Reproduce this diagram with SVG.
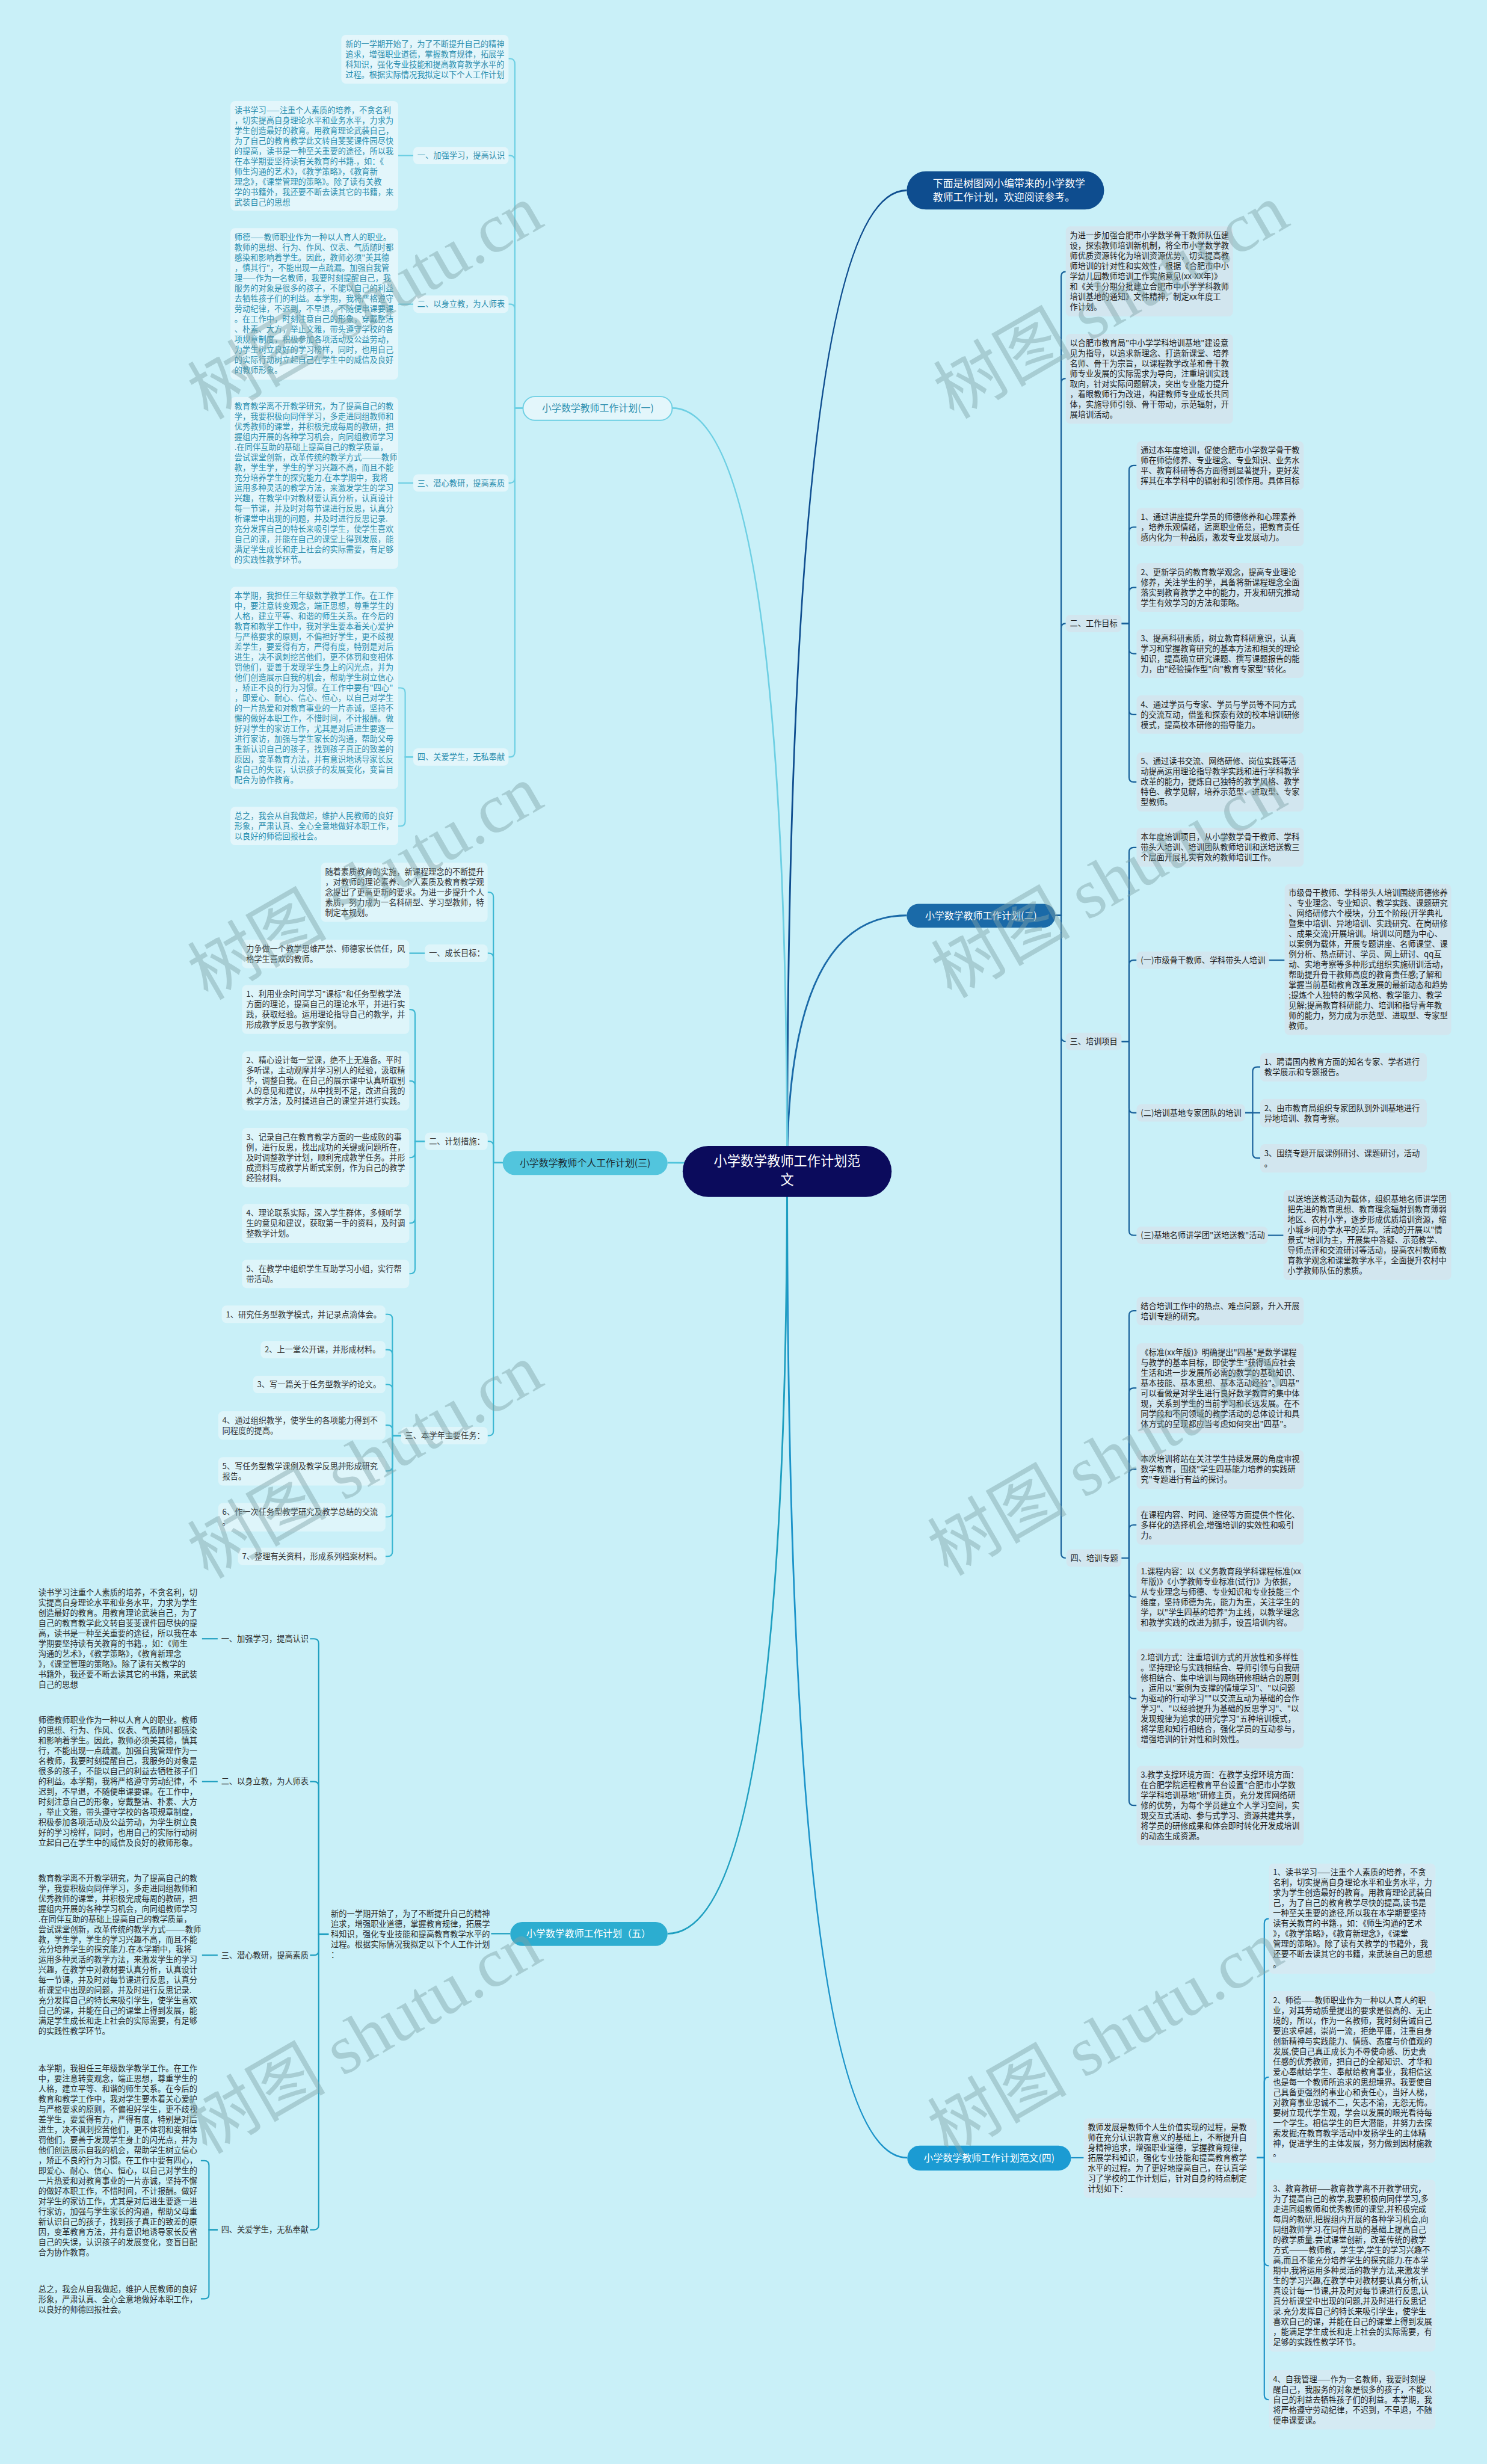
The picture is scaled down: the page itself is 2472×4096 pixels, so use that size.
<svg xmlns="http://www.w3.org/2000/svg" width="2472" height="4096" viewBox="0 0 2472 4096">
<style>
text{font-family:"Noto Sans CJK SC","Noto Sans",sans-serif;font-size:13.7px}
.k{fill:none;stroke-width:2.2}
.c{fill:none;stroke-width:3}
.k1{stroke:#6dcfe3}.k3{stroke:#3cb7d2}.k5{stroke:#1f9fc0}.k2{stroke:#17609a}.k4{stroke:#1a90c6}
.b1{fill:#e3f6fb}.b3{fill:#def5fa}.b2{fill:#d2e6ef}.b4{fill:#d4eaf3}
.x1{fill:#2b8eae}.x3{fill:#333333}.x5{fill:#2b2b2b}.x2{fill:#1c1c1c}.x4{fill:#1c1c1c}
.L1{font-size:16.5px;text-anchor:middle}
.wm{font-family:"Liberation Serif","Noto Sans CJK SC",serif;font-size:120px;fill:#7fa3a8;opacity:.45}
</style>
<rect width="2472" height="4096" fill="#c9f0f8"/>
<g transform="scale(0.965)">
<g id="connectors">
<path class="c" stroke="#0e4d8f" d="M1356 2017 Q1356 328 1562 328"/>
<path class="c" stroke="#1a6aa8" d="M1356 2017 Q1356 1577 1562 1577"/>
<path class="c" stroke="#1b93c9" d="M1356 2017 Q1356 3717 1563 3717"/>
<path class="c" stroke="#6dcfe3" d="M1356 2017 Q1356 703 1158 703"/>
<path class="c" stroke="#4ec3db" d="M1356 2017 Q1356 2003 1150 2003"/>
<path class="c" stroke="#1f9fc0" d="M1356 2017 Q1356 3331 1150 3331"/>
<g class="k k1">
<path d="M901 703 H887 V111 Q887 101 879 101 H876"/>
<path d="M901 703 H887 V278 Q887 268 879 268 H876"/>
<path d="M901 703 H887 V534 Q887 524 879 524 H876"/>
<path d="M901 703 H887 V822 Q887 832 879 832 H876"/>
<path d="M901 703 H887 V1294 Q887 1304 879 1304 H876"/>
<path d="M712 268 H686"/><path d="M712 524 H686"/><path d="M712 832 H686"/>
<path d="M712 1304 H698 V1193 Q698 1185 690 1185 H686"/>
<path d="M712 1304 H698 V1415 Q698 1423 690 1423 H686"/>
</g>
<g class="k k3">
<path d="M866 2003 H850 V1545 Q850 1537 842 1537 H840"/>
<path d="M866 2003 H850 V1650 Q850 1642 842 1642 H840"/>
<path d="M866 2003 H850 V1974 Q850 1966 842 1966 H840"/>
<path d="M866 2003 H850 V2465 Q850 2473 842 2473 H840"/>
<path d="M732 1642 H705"/>
<path d="M732 1966 H715 V1747 Q715 1739 707 1739 H705"/>
<path d="M732 1966 H715 V1870 Q715 1862 707 1862 H705"/>
<path d="M732 1966 H715 V1986 Q715 1994 707 1994 H705"/>
<path d="M732 1966 H715 V2099 Q715 2107 707 2107 H705"/>
<path d="M732 1966 H715 V2186 Q715 2194 707 2194 H705"/>
<path d="M691 2473 H676 V2272 Q676 2264 668 2264 H664"/>
<path d="M691 2473 H676 V2333 Q676 2325 668 2325 H664"/>
<path d="M691 2473 H676 V2393 Q676 2385 668 2385 H664"/>
<path d="M691 2473 H676 V2463 Q676 2455 668 2455 H664"/>
<path d="M691 2473 H676 V2526 Q676 2534 668 2534 H664"/>
<path d="M691 2473 H676 V2605 Q676 2613 668 2613 H664"/>
<path d="M691 2473 H676 V2673 Q676 2681 668 2681 H664"/>
</g>
<g class="k k5">
<path d="M879 3331 H846"/>
<path d="M566 3332 H549 V2831 Q549 2823 541 2823 H534"/>
<path d="M566 3332 H549 V3077 Q549 3069 541 3069 H534"/>
<path d="M566 3332 H549 V3360 Q549 3368 541 3368 H534"/>
<path d="M566 3332 H549 V3833 Q549 3841 541 3841 H534"/>
<path d="M375 2823 H348"/><path d="M375 3069 H348"/><path d="M375 3368 H348"/>
<path d="M375 3841 H360 V3730 Q360 3722 352 3722 H346"/>
<path d="M375 3841 H360 V3952 Q360 3960 352 3960 H346"/>
</g>
<g class="k k2">
<path d="M1818 1577 H1828 V476 Q1828 468 1836 468"/>
<path d="M1818 1577 H1828 V660 Q1828 652 1836 652"/>
<path d="M1818 1577 H1828 V1082 Q1828 1074 1836 1074"/>
<path d="M1818 1577 H1828 V1786 Q1828 1794 1836 1794"/>
<path d="M1818 1577 H1828 V2676 Q1828 2684 1836 2684"/>
<path d="M1932 1074 H1945 V810 Q1945 802 1953 802 H1958"/>
<path d="M1932 1074 H1945 V916 Q1945 908 1953 908 H1958"/>
<path d="M1932 1074 H1945 V1020 Q1945 1012 1953 1012 H1958"/>
<path d="M1932 1074 H1945 V1118 Q1945 1126 1953 1126 H1958"/>
<path d="M1932 1074 H1945 V1223 Q1945 1231 1953 1231 H1958"/>
<path d="M1932 1074 H1945 V1339 Q1945 1347 1953 1347 H1958"/>
<path d="M1932 1794 H1945 V1468 Q1945 1460 1953 1460 H1958"/>
<path d="M1932 1794 H1945 V1662 Q1945 1654 1953 1654 H1958"/>
<path d="M1932 1794 H1945 V1909 Q1945 1917 1953 1917 H1958"/>
<path d="M1932 1794 H1945 V2120 Q1945 2128 1953 2128 H1958"/>
<path d="M2186 1654 H2213"/>
<path d="M2145 1917 H2158 V1846 Q2158 1838 2166 1838 H2171"/>
<path d="M2145 1917 H2171"/>
<path d="M2145 1917 H2158 V1987 Q2158 1995 2166 1995 H2171"/>
<path d="M2184 2128 H2211"/>
<path d="M1932 2684 H1945 V2266 Q1945 2258 1953 2258 H1958"/>
<path d="M1932 2684 H1945 V2399 Q1945 2391 1953 2391 H1958"/>
<path d="M1932 2684 H1945 V2539 Q1945 2531 1953 2531 H1958"/>
<path d="M1932 2684 H1945 V2635 Q1945 2627 1953 2627 H1958"/>
<path d="M1932 2684 H1945 V2743 Q1945 2751 1953 2751 H1958"/>
<path d="M1932 2684 H1945 V2918 Q1945 2926 1953 2926 H1958"/>
<path d="M1932 2684 H1945 V3102 Q1945 3110 1953 3110 H1958"/>
</g>
<g class="k k4">
<path d="M1845 3717 H1867"/>
<path d="M2165 3717 H2178 V3313 Q2178 3305 2186 3305"/>
<path d="M2165 3717 H2178 V3586 Q2178 3578 2186 3578"/>
<path d="M2165 3717 H2178 V3895 Q2178 3903 2186 3903"/>
<path d="M2165 3717 H2178 V4126 Q2178 4134 2186 4134"/>
</g>
</g>

<g id="center">
<rect x="1176" y="1974" width="360" height="88" rx="44" fill="#0b0b5c"/>
<text x="1356" y="2008" fill="#fff" style="font-size:23px;text-anchor:middle">小学数学教师工作计划范</text>
<text x="1356" y="2040" fill="#fff" style="font-size:23px;text-anchor:middle">文</text>
</g>

<g id="intro-top">
<rect x="1562" y="295" width="340" height="66" rx="33" fill="#0e4d8f"/>
<text x="1607" y="322" fill="#fff" style="font-size:17.5px">下面是树图网小编带来的小学数学</text>
<text x="1607" y="346" fill="#fff" style="font-size:17.5px">教师工作计划，欢迎阅读参考。</text>
</g>

<g id="b1">
<rect x="901" y="683" width="257" height="41" rx="20.5" fill="#e3f6fb" stroke="#6dcfe3" stroke-width="2"/>
<text class="L1 x1" x="1030" y="709">小学数学教师工作计划(一)</text>
</g>
<g id="b1-intro">
<rect class="b1" x="588" y="60" width="288" height="84" rx="8"/>
<text class="x1" x="595" y="80.5"><tspan x="595">新的一学期开始了，为了不断提升自己的精神</tspan><tspan x="595" dy="17.6">追求，增强职业道德，掌握教育规律，拓展学</tspan><tspan x="595" dy="17.6">科知识，强化专业技能和提高教育教学水平的</tspan><tspan x="595" dy="17.6">过程。根据实际情况我拟定以下个人工作计划</tspan></text>
</g>
<g id="b1-l1">
<rect class="b1" x="712" y="253" width="164" height="30" rx="8"/>
<text class="x1" x="719" y="273">一、加强学习，提高认识</text>
</g>
<g id="b1-l2">
<rect class="b1" x="712" y="509" width="164" height="30" rx="8"/>
<text class="x1" x="719" y="529">二、以身立教，为人师表</text>
</g>
<g id="b1-l3">
<rect class="b1" x="712" y="817" width="164" height="30" rx="8"/>
<text class="x1" x="719" y="837">三、潜心教研，提高素质</text>
</g>
<g id="b1-l4">
<rect class="b1" x="712" y="1289" width="164" height="30" rx="8"/>
<text class="x1" x="719" y="1309">四、关爱学生，无私奉献</text>
</g>
<g id="b1-t1">
<rect class="b1" x="397" y="174" width="289" height="189" rx="8"/>
<text class="x1" x="404" y="194.5"><tspan x="404">读书学习——注重个人素质的培养，不贪名利</tspan><tspan x="404" dy="17.6">，切实提高自身理论水平和业务水平，力求为</tspan><tspan x="404" dy="17.6">学生创造最好的教育。用教育理论武装自己，</tspan><tspan x="404" dy="17.6">为了自己的教育教学此文转自斐斐课件园尽快</tspan><tspan x="404" dy="17.6">的提高，读书是一种至关重要的途径，所以我</tspan><tspan x="404" dy="17.6">在本学期要坚持读有关教育的书籍.，如：《</tspan><tspan x="404" dy="17.6">师生沟通的艺术》，《教学策略》，《教育新</tspan><tspan x="404" dy="17.6">理念》，《课堂管理的策略》。除了读有关教</tspan><tspan x="404" dy="17.6">学的书籍外，我还要不断去读其它的书籍，来</tspan><tspan x="404" dy="17.6">武装自己的思想</tspan></text>
</g>
<g id="b1-t2">
<rect class="b1" x="397" y="393" width="289" height="261" rx="8"/>
<text class="x1" x="404" y="413.5"><tspan x="404">师德——教师职业作为一种以人育人的职业。</tspan><tspan x="404" dy="17.6">教师的思想、行为、作风、仪表、气质随时都</tspan><tspan x="404" dy="17.6">感染和影响着学生。因此，教师必须"美其德</tspan><tspan x="404" dy="17.6">，慎其行"，不能出现一点疏漏。加强自我管</tspan><tspan x="404" dy="17.6">理——作为一名教师，我要时刻提醒自己，我</tspan><tspan x="404" dy="17.6">服务的对象是很多的孩子，不能以自己的利益</tspan><tspan x="404" dy="17.6">去牺牲孩子们的利益。本学期，我将严格遵守</tspan><tspan x="404" dy="17.6">劳动纪律，不迟到，不早退，不随便串课要课</tspan><tspan x="404" dy="17.6">。在工作中，时刻注意自己的形象，穿戴整洁</tspan><tspan x="404" dy="17.6">、朴素、大方，举止文雅，带头遵守学校的各</tspan><tspan x="404" dy="17.6">项规章制度，积极参加各项活动及公益劳动，</tspan><tspan x="404" dy="17.6">为学生树立良好的学习榜样，同时，也用自己</tspan><tspan x="404" dy="17.6">的实际行动树立起自己在学生中的威信及良好</tspan><tspan x="404" dy="17.6">的教师形象。</tspan></text>
</g>
<g id="b1-t3">
<rect class="b1" x="397" y="684" width="289" height="296" rx="8"/>
<text class="x1" x="404" y="704.5"><tspan x="404">教育教学离不开教学研究，为了提高自己的教</tspan><tspan x="404" dy="17.6">学，我要积极向同伴学习，多走进同组教师和</tspan><tspan x="404" dy="17.6">优秀教师的课堂，并积极完成每周的教研，把</tspan><tspan x="404" dy="17.6">握组内开展的各种学习机会，向同组教师学习</tspan><tspan x="404" dy="17.6">.在同伴互助的基础上提高自己的教学质量，</tspan><tspan x="404" dy="17.6">尝试课堂创新，改革传统的教学方式———教师</tspan><tspan x="404" dy="17.6">教，学生学，学生的学习兴趣不高，而且不能</tspan><tspan x="404" dy="17.6">充分培养学生的探究能力.在本学期中，我将</tspan><tspan x="404" dy="17.6">运用多种灵活的教学方法，来激发学生的学习</tspan><tspan x="404" dy="17.6">兴趣，在教学中对教材要认真分析，认真设计</tspan><tspan x="404" dy="17.6">每一节课，并及时对每节课进行反思，认真分</tspan><tspan x="404" dy="17.6">析课堂中出现的问题，并及时进行反思记录.</tspan><tspan x="404" dy="17.6">充分发挥自己的特长来吸引学生，使学生喜欢</tspan><tspan x="404" dy="17.6">自己的课，并能在自己的课堂上得到发展，能</tspan><tspan x="404" dy="17.6">满足学生成长和走上社会的实际需要，有足够</tspan><tspan x="404" dy="17.6">的实践性教学环节。</tspan></text>
</g>
<g id="b1-t4">
<rect class="b1" x="397" y="1011" width="289" height="348" rx="8"/>
<text class="x1" x="404" y="1031.5"><tspan x="404">本学期，我担任三年级数学教学工作。在工作</tspan><tspan x="404" dy="17.6">中，要注意转变观念，端正思想，尊重学生的</tspan><tspan x="404" dy="17.6">人格，建立平等、和谐的师生关系。在今后的</tspan><tspan x="404" dy="17.6">教育和教学工作中，我对学生要本着关心爱护</tspan><tspan x="404" dy="17.6">与严格要求的原则，不偏袒好学生，更不歧视</tspan><tspan x="404" dy="17.6">差学生，要爱得有方，严得有度，特别是对后</tspan><tspan x="404" dy="17.6">进生，决不讽刺挖苦他们，更不体罚和变相体</tspan><tspan x="404" dy="17.6">罚他们，要善于发现学生身上的闪光点，并为</tspan><tspan x="404" dy="17.6">他们创造展示自我的机会，帮助学生树立信心</tspan><tspan x="404" dy="17.6">，矫正不良的行为习惯。在工作中要有"四心"</tspan><tspan x="404" dy="17.6">，即爱心、耐心、信心、恒心，以自己对学生</tspan><tspan x="404" dy="17.6">的一片热爱和对教育事业的一片赤诚，坚持不</tspan><tspan x="404" dy="17.6">懈的做好本职工作，不惜时间，不计报酬。做</tspan><tspan x="404" dy="17.6">好对学生的家访工作，尤其是对后进生要逐一</tspan><tspan x="404" dy="17.6">进行家访，加强与学生家长的沟通，帮助父母</tspan><tspan x="404" dy="17.6">重新认识自己的孩子，找到孩子真正的致差的</tspan><tspan x="404" dy="17.6">原因，变革教育方法，并有意识地诱导家长反</tspan><tspan x="404" dy="17.6">省自己的失误，认识孩子的发展变化，变盲目</tspan><tspan x="404" dy="17.6">配合为协作教育。</tspan></text>
</g>
<g id="b1-t5">
<rect class="b1" x="397" y="1390" width="289" height="66" rx="8"/>
<text class="x1" x="404" y="1410.5"><tspan x="404">总之，我会从自我做起，维护人民教师的良好</tspan><tspan x="404" dy="17.6">形象，严肃认真、全心全意地做好本职工作，</tspan><tspan x="404" dy="17.6">以良好的师德回报社会。</tspan></text>
</g>

<g id="b3">
<rect x="866" y="1983" width="284" height="41" rx="20.5" fill="#52c5dd"/>
<text class="L1" x="1008" y="2009" fill="#1a2a33">小学数学教师个人工作计划(三)</text>
</g>
<g id="b3-intro">
<rect class="b3" x="553" y="1486" width="287" height="102" rx="8"/>
<text class="x3" x="560" y="1506.5"><tspan x="560">随着素质教育的实施，新课程理念的不断提升</tspan><tspan x="560" dy="17.6">，对教师的理论素养、个人素质及教育教学观</tspan><tspan x="560" dy="17.6">念提出了更高更新的要求。为进一步提升个人</tspan><tspan x="560" dy="17.6">素质，努力成为一名科研型、学习型教师，特</tspan><tspan x="560" dy="17.6">制定本规划。</tspan></text>
</g>
<g id="b3-l1">
<rect class="b3" x="732" y="1627" width="108" height="30" rx="8"/>
<text class="x3" x="739" y="1647">一、成长目标：</text>
</g>
<g id="b3-l2">
<rect class="b3" x="732" y="1951" width="108" height="30" rx="8"/>
<text class="x3" x="739" y="1971">二、计划措施：</text>
</g>
<g id="b3-l3">
<rect class="b3" x="691" y="2458" width="149" height="30" rx="8"/>
<text class="x3" x="698" y="2478">三、本学年主要任务：</text>
</g>
<g id="b3-g">
<rect class="b3" x="417" y="1619" width="288" height="49" rx="8"/>
<text class="x3" x="424" y="1639.5"><tspan x="424">力争做一个教学思维严禁、师德家长信任，风</tspan><tspan x="424" dy="17.6">格学生喜欢的教师。</tspan></text>
</g>
<g id="b3-m1">
<rect class="b3" x="417" y="1697" width="288" height="84" rx="8"/>
<text class="x3" x="424" y="1717.5"><tspan x="424">1、利用业余时间学习"课标"和任务型教学法</tspan><tspan x="424" dy="17.6">方面的理论，提高自己的理论水平，并进行实</tspan><tspan x="424" dy="17.6">践，获取经验。运用理论指导自己的教学，并</tspan><tspan x="424" dy="17.6">形成教学反思与教学案例。</tspan></text>
</g>
<g id="b3-m2">
<rect class="b3" x="417" y="1811" width="288" height="102" rx="8"/>
<text class="x3" x="424" y="1831.5"><tspan x="424">2、精心设计每一堂课，绝不上无准备。平时</tspan><tspan x="424" dy="17.6">多听课，主动观摩并学习别人的经验，汲取精</tspan><tspan x="424" dy="17.6">华，调整自我。在自己的展示课中认真听取别</tspan><tspan x="424" dy="17.6">人的意见和建议，从中找到不足，改进自我的</tspan><tspan x="424" dy="17.6">教学方法，及时揉进自己的课堂并进行实践。</tspan></text>
</g>
<g id="b3-m3">
<rect class="b3" x="417" y="1943" width="288" height="102" rx="8"/>
<text class="x3" x="424" y="1963.5"><tspan x="424">3、记录自己在教育教学方面的一些成败的事</tspan><tspan x="424" dy="17.6">例，进行反思，找出成功的关键或问题所在，</tspan><tspan x="424" dy="17.6">及时调整教学计划，顺利完成教学任务。并形</tspan><tspan x="424" dy="17.6">成资料写成教学片断式案例，作为自己的教学</tspan><tspan x="424" dy="17.6">经验材料。</tspan></text>
</g>
<g id="b3-m4">
<rect class="b3" x="417" y="2074" width="288" height="67" rx="8"/>
<text class="x3" x="424" y="2094.5"><tspan x="424">4、理论联系实际，深入学生群体，多倾听学</tspan><tspan x="424" dy="17.6">生的意见和建议，获取第一手的资料，及时调</tspan><tspan x="424" dy="17.6">整教学计划。</tspan></text>
</g>
<g id="b3-m5">
<rect class="b3" x="417" y="2170" width="288" height="49" rx="8"/>
<text class="x3" x="424" y="2190.5"><tspan x="424">5、在教学中组织学生互助学习小组，实行帮</tspan><tspan x="424" dy="17.6">带活动。</tspan></text>
</g>
<g id="b3-r1">
<rect class="b3" x="382" y="2249" width="282" height="30" rx="8"/>
<text class="x3" x="389" y="2269">1、研究任务型教学模式，并记录点滴体会。</text>
</g>
<g id="b3-r2">
<rect class="b3" x="449" y="2310" width="215" height="30" rx="8"/>
<text class="x3" x="456" y="2330">2、上一堂公开课，并形成材料。</text>
</g>
<g id="b3-r3">
<rect class="b3" x="436" y="2370" width="228" height="30" rx="8"/>
<text class="x3" x="443" y="2390">3、写一篇关于任务型教学的论文。</text>
</g>
<g id="b3-r4">
<rect class="b3" x="376" y="2431" width="288" height="49" rx="8"/>
<text class="x3" x="383" y="2451.5"><tspan x="383">4、通过组织教学，使学生的各项能力得到不</tspan><tspan x="383" dy="17.6">同程度的提高。</tspan></text>
</g>
<g id="b3-r5">
<rect class="b3" x="376" y="2510" width="288" height="49" rx="8"/>
<text class="x3" x="383" y="2530.5"><tspan x="383">5、写任务型教学课例及教学反思并形成研究</tspan><tspan x="383" dy="17.6">报告。</tspan></text>
</g>
<g id="b3-r6">
<rect class="b3" x="376" y="2589" width="288" height="49" rx="8"/>
<text class="x3" x="383" y="2609.5"><tspan x="383">6、作一次任务型教学研究及教学总结的交流</tspan><tspan x="383" dy="17.6">。</tspan></text>
</g>
<g id="b3-r7">
<rect class="b3" x="410" y="2666" width="254" height="30" rx="8"/>
<text class="x3" x="417" y="2686">7、整理有关资料，形成系列档案材料。</text>
</g>

<g id="b5">
<rect x="879" y="3311" width="271" height="41" rx="20.5" fill="#2cadd0"/>
<text class="L1" x="1014" y="3337" fill="#ffffff">小学数学教师工作计划（五）</text>
</g>
<g id="b5-intro">
<text class="x5" x="570" y="3302"><tspan x="570">新的一学期开始了，为了不断提升自己的精神</tspan><tspan x="570" dy="17.6">追求，增强职业道德，掌握教育规律，拓展学</tspan><tspan x="570" dy="17.6">科知识，强化专业技能和提高教育教学水平的</tspan><tspan x="570" dy="17.6">过程。根据实际情况我拟定以下个人工作计划</tspan><tspan x="570" dy="17.6">：</tspan></text>
</g>
<g id="b5-l1"><text class="x5" x="381" y="2828">一、加强学习，提高认识</text></g>
<g id="b5-l2"><text class="x5" x="381" y="3074">二、以身立教，为人师表</text></g>
<g id="b5-l3"><text class="x5" x="381" y="3373">三、潜心教研，提高素质</text></g>
<g id="b5-l4"><text class="x5" x="381" y="3846">四、关爱学生，无私奉献</text></g>
<g id="b5-t1">
<text class="x5" x="66" y="2748"><tspan x="66">读书学习注重个人素质的培养，不贪名利，切</tspan><tspan x="66" dy="17.6">实提高自身理论水平和业务水平，力求为学生</tspan><tspan x="66" dy="17.6">创造最好的教育。用教育理论武装自己，为了</tspan><tspan x="66" dy="17.6">自己的教育教学此文转自斐斐课件园尽快的提</tspan><tspan x="66" dy="17.6">高，读书是一种至关重要的途径，所以我在本</tspan><tspan x="66" dy="17.6">学期要坚持读有关教育的书籍.，如：《师生</tspan><tspan x="66" dy="17.6">沟通的艺术》，《教学策略》，《教育新理念</tspan><tspan x="66" dy="17.6">》，《课堂管理的策略》。除了读有关教学的</tspan><tspan x="66" dy="17.6">书籍外，我还要不断去读其它的书籍，来武装</tspan><tspan x="66" dy="17.6">自己的思想</tspan></text>
</g>
<g id="b5-t2">
<text class="x5" x="66" y="2968"><tspan x="66">师德教师职业作为一种以人育人的职业。教师</tspan><tspan x="66" dy="17.6">的思想、行为、作风、仪表、气质随时都感染</tspan><tspan x="66" dy="17.6">和影响着学生。因此，教师必须美其德，慎其</tspan><tspan x="66" dy="17.6">行，不能出现一点疏漏。加强自我管理作为一</tspan><tspan x="66" dy="17.6">名教师，我要时刻提醒自己，我服务的对象是</tspan><tspan x="66" dy="17.6">很多的孩子，不能以自己的利益去牺牲孩子们</tspan><tspan x="66" dy="17.6">的利益。本学期，我将严格遵守劳动纪律，不</tspan><tspan x="66" dy="17.6">迟到，不早退，不随便串课要课。在工作中，</tspan><tspan x="66" dy="17.6">时刻注意自己的形象，穿戴整洁、朴素、大方</tspan><tspan x="66" dy="17.6">，举止文雅，带头遵守学校的各项规章制度，</tspan><tspan x="66" dy="17.6">积极参加各项活动及公益劳动，为学生树立良</tspan><tspan x="66" dy="17.6">好的学习榜样，同时，也用自己的实际行动树</tspan><tspan x="66" dy="17.6">立起自己在学生中的威信及良好的教师形象。</tspan></text>
</g>
<g id="b5-t3">
<text class="x5" x="66" y="3240"><tspan x="66">教育教学离不开教学研究，为了提高自己的教</tspan><tspan x="66" dy="17.6">学，我要积极向同伴学习，多走进同组教师和</tspan><tspan x="66" dy="17.6">优秀教师的课堂，并积极完成每周的教研，把</tspan><tspan x="66" dy="17.6">握组内开展的各种学习机会，向同组教师学习</tspan><tspan x="66" dy="17.6">.在同伴互助的基础上提高自己的教学质量，</tspan><tspan x="66" dy="17.6">尝试课堂创新，改革传统的教学方式———教师</tspan><tspan x="66" dy="17.6">教，学生学，学生的学习兴趣不高，而且不能</tspan><tspan x="66" dy="17.6">充分培养学生的探究能力.在本学期中，我将</tspan><tspan x="66" dy="17.6">运用多种灵活的教学方法，来激发学生的学习</tspan><tspan x="66" dy="17.6">兴趣，在教学中对教材要认真分析，认真设计</tspan><tspan x="66" dy="17.6">每一节课，并及时对每节课进行反思，认真分</tspan><tspan x="66" dy="17.6">析课堂中出现的问题，并及时进行反思记录.</tspan><tspan x="66" dy="17.6">充分发挥自己的特长来吸引学生，使学生喜欢</tspan><tspan x="66" dy="17.6">自己的课，并能在自己的课堂上得到发展，能</tspan><tspan x="66" dy="17.6">满足学生成长和走上社会的实际需要，有足够</tspan><tspan x="66" dy="17.6">的实践性教学环节。</tspan></text>
</g>
<g id="b5-t4">
<text class="x5" x="66" y="3568"><tspan x="66">本学期，我担任三年级数学教学工作。在工作</tspan><tspan x="66" dy="17.6">中，要注意转变观念，端正思想，尊重学生的</tspan><tspan x="66" dy="17.6">人格，建立平等、和谐的师生关系。在今后的</tspan><tspan x="66" dy="17.6">教育和教学工作中，我对学生要本着关心爱护</tspan><tspan x="66" dy="17.6">与严格要求的原则，不偏袒好学生，更不歧视</tspan><tspan x="66" dy="17.6">差学生，要爱得有方，严得有度，特别是对后</tspan><tspan x="66" dy="17.6">进生，决不讽刺挖苦他们，更不体罚和变相体</tspan><tspan x="66" dy="17.6">罚他们，要善于发现学生身上的闪光点，并为</tspan><tspan x="66" dy="17.6">他们创造展示自我的机会，帮助学生树立信心</tspan><tspan x="66" dy="17.6">，矫正不良的行为习惯。在工作中要有四心，</tspan><tspan x="66" dy="17.6">即爱心、耐心、信心、恒心，以自己对学生的</tspan><tspan x="66" dy="17.6">一片热爱和对教育事业的一片赤诚，坚持不懈</tspan><tspan x="66" dy="17.6">的做好本职工作，不惜时间，不计报酬。做好</tspan><tspan x="66" dy="17.6">对学生的家访工作，尤其是对后进生要逐一进</tspan><tspan x="66" dy="17.6">行家访，加强与学生家长的沟通，帮助父母重</tspan><tspan x="66" dy="17.6">新认识自己的孩子，找到孩子真正的致差的原</tspan><tspan x="66" dy="17.6">因，变革教育方法，并有意识地诱导家长反省</tspan><tspan x="66" dy="17.6">自己的失误，认识孩子的发展变化，变盲目配</tspan><tspan x="66" dy="17.6">合为协作教育。</tspan></text>
</g>
<g id="b5-t5">
<text class="x5" x="66" y="3948"><tspan x="66">总之，我会从自我做起，维护人民教师的良好</tspan><tspan x="66" dy="17.6">形象，严肃认真、全心全意地做好本职工作，</tspan><tspan x="66" dy="17.6">以良好的师德回报社会。</tspan></text>
</g>

<g id="b2">
<rect x="1562" y="1557" width="256" height="41" rx="20.5" fill="#1a6aa8"/>
<text class="L1" x="1690" y="1583" fill="#ffffff">小学数学教师工作计划(二)</text>
</g>
<g id="b2-i1">
<rect class="b2" x="1836" y="390" width="288" height="155" rx="8"/>
<text class="x2" x="1843" y="410.5"><tspan x="1843">为进一步加强合肥市小学数学骨干教师队伍建</tspan><tspan x="1843" dy="17.6">设，探索教师培训新机制，将全市小学数学教</tspan><tspan x="1843" dy="17.6">师优质资源转化为培训资源优势，切实提高教</tspan><tspan x="1843" dy="17.6">师培训的针对性和实效性，根据《合肥市中小</tspan><tspan x="1843" dy="17.6">学幼儿园教师培训工作实施意见(xx-XX年)》</tspan><tspan x="1843" dy="17.6">和《关于分期分批建立合肥市中小学学科教师</tspan><tspan x="1843" dy="17.6">培训基地的通知》文件精神，制定xx年度工</tspan><tspan x="1843" dy="17.6">作计划。</tspan></text>
</g>
<g id="b2-i2">
<rect class="b2" x="1836" y="575" width="288" height="155" rx="8"/>
<text class="x2" x="1843" y="595.5"><tspan x="1843">以合肥市教育局"中小学学科培训基地"建设意</tspan><tspan x="1843" dy="17.6">见为指导，以追求新理念、打造新课堂、培养</tspan><tspan x="1843" dy="17.6">名师、骨干为宗旨，以课程教学改革和骨干教</tspan><tspan x="1843" dy="17.6">师专业发展的实际需求为导向，注重培训实践</tspan><tspan x="1843" dy="17.6">取向，针对实际问题解决，突出专业能力提升</tspan><tspan x="1843" dy="17.6">，着眼教师行为改进，构建教师专业成长共同</tspan><tspan x="1843" dy="17.6">体，实施导师引领、骨干带动，示范辐射，开</tspan><tspan x="1843" dy="17.6">展培训活动。</tspan></text>
</g>
<g id="b2-l2">
<rect class="b2" x="1836" y="1059" width="96" height="30" rx="8"/>
<text class="x2" x="1843" y="1079">二、工作目标</text>
</g>
<g id="b2-g0">
<rect class="b2" x="1958" y="760" width="288" height="84" rx="8"/>
<text class="x2" x="1965" y="780.5"><tspan x="1965">通过本年度培训，促使合肥市小学数学骨干教</tspan><tspan x="1965" dy="17.6">师在师德修养、专业理念、专业知识、业务水</tspan><tspan x="1965" dy="17.6">平、教育科研等各方面得到显著提升，更好发</tspan><tspan x="1965" dy="17.6">挥其在本学科中的辐射和引领作用。具体目标</tspan></text>
</g>
<g id="b2-g1">
<rect class="b2" x="1958" y="875" width="288" height="66" rx="8"/>
<text class="x2" x="1965" y="895.5"><tspan x="1965">1、通过讲座提升学员的师德修养和心理素养</tspan><tspan x="1965" dy="17.6">，培养乐观情绪，远离职业倦怠，把教育责任</tspan><tspan x="1965" dy="17.6">感内化为一种品质，激发专业发展动力。</tspan></text>
</g>
<g id="b2-g2">
<rect class="b2" x="1958" y="970" width="288" height="84" rx="8"/>
<text class="x2" x="1965" y="990.5"><tspan x="1965">2、更新学员的教育教学观念，提高专业理论</tspan><tspan x="1965" dy="17.6">修养，关注学生的学，具备将新课程理念全面</tspan><tspan x="1965" dy="17.6">落实到教育教学之中的能力，开发和研究推动</tspan><tspan x="1965" dy="17.6">学生有效学习的方法和策略。</tspan></text>
</g>
<g id="b2-g3">
<rect class="b2" x="1958" y="1084" width="288" height="84" rx="8"/>
<text class="x2" x="1965" y="1104.5"><tspan x="1965">3、提高科研素质，树立教育科研意识，认真</tspan><tspan x="1965" dy="17.6">学习和掌握教育研究的基本方法和相关的理论</tspan><tspan x="1965" dy="17.6">知识，提高确立研究课题、撰写课题报告的能</tspan><tspan x="1965" dy="17.6">力，由"经验操作型"向"教育专家型"转化。</tspan></text>
</g>
<g id="b2-g4">
<rect class="b2" x="1958" y="1198" width="288" height="66" rx="8"/>
<text class="x2" x="1965" y="1218.5"><tspan x="1965">4、通过学员与专家、学员与学员等不同方式</tspan><tspan x="1965" dy="17.6">的交流互动，借鉴和探索有效的校本培训研修</tspan><tspan x="1965" dy="17.6">模式，提高校本研修的指导能力。</tspan></text>
</g>
<g id="b2-g5">
<rect class="b2" x="1958" y="1296" width="288" height="102" rx="8"/>
<text class="x2" x="1965" y="1316.5"><tspan x="1965">5、通过读书交流、网络研修、岗位实践等活</tspan><tspan x="1965" dy="17.6">动提高运用理论指导教学实践和进行学科教学</tspan><tspan x="1965" dy="17.6">改革的能力，提炼自己独特的教学风格、教学</tspan><tspan x="1965" dy="17.6">特色、教学见解，培养示范型、进取型、专家</tspan><tspan x="1965" dy="17.6">型教师。</tspan></text>
</g>
<g id="b2-l3">
<rect class="b2" x="1836" y="1779" width="96" height="30" rx="8"/>
<text class="x2" x="1843" y="1799">三、培训项目</text>
</g>
<g id="b2-p0">
<rect class="b2" x="1958" y="1426" width="288" height="67" rx="8"/>
<text class="x2" x="1965" y="1446.5"><tspan x="1965">本年度培训项目，从小学数学骨干教师、学科</tspan><tspan x="1965" dy="17.6">带头人培训、培训团队教师培训和送培送教三</tspan><tspan x="1965" dy="17.6">个层面开展扎实有效的教师培训工作。</tspan></text>
</g>
<g id="b2-p1">
<rect class="b2" x="1958" y="1639" width="228" height="30" rx="8"/>
<text class="x2" x="1965" y="1659">(一)市级骨干教师、学科带头人培训</text>
</g>
<g id="b2-p1t">
<rect class="b2" x="2213" y="1523" width="287" height="260" rx="8"/>
<text class="x2" x="2220" y="1543.5"><tspan x="2220">市级骨干教师、学科带头人培训围绕师德修养</tspan><tspan x="2220" dy="17.6">、专业理念、专业知识、教学实践、课题研究</tspan><tspan x="2220" dy="17.6">、网络研修六个模块，分五个阶段(开学典礼</tspan><tspan x="2220" dy="17.6">暨集中培训、异地培训、实践研究、在岗研修</tspan><tspan x="2220" dy="17.6">、成果交流)开展培训。培训以问题为中心、</tspan><tspan x="2220" dy="17.6">以案例为载体，开展专题讲座、名师课堂、课</tspan><tspan x="2220" dy="17.6">例分析、热点研讨、学员、网上研讨、qq互</tspan><tspan x="2220" dy="17.6">动、实地考察等多种形式组织实施研训活动，</tspan><tspan x="2220" dy="17.6">帮助提升骨干教师高度的教育责任感;了解和</tspan><tspan x="2220" dy="17.6">掌握当前基础教育改革发展的最新动态和趋势</tspan><tspan x="2220" dy="17.6">;提炼个人独特的教学风格、教学能力、教学</tspan><tspan x="2220" dy="17.6">见解;提高教育科研能力、培训和指导青年教</tspan><tspan x="2220" dy="17.6">师的能力，努力成为示范型、进取型、专家型</tspan><tspan x="2220" dy="17.6">教师。</tspan></text>
</g>
<g id="b2-p2">
<rect class="b2" x="1958" y="1902" width="187" height="30" rx="8"/>
<text class="x2" x="1965" y="1922">(二)培训基地专家团队的培训</text>
</g>
<g id="b2-p2a">
<rect class="b2" x="2171" y="1814" width="287" height="49" rx="8"/>
<text class="x2" x="2178" y="1834.5"><tspan x="2178">1、聘请国内教育方面的知名专家、学者进行</tspan><tspan x="2178" dy="17.6">教学展示和专题报告。</tspan></text>
</g>
<g id="b2-p2b">
<rect class="b2" x="2171" y="1893" width="287" height="49" rx="8"/>
<text class="x2" x="2178" y="1913.5"><tspan x="2178">2、由市教育局组织专家团队到外训基地进行</tspan><tspan x="2178" dy="17.6">异地培训、教育考察。</tspan></text>
</g>
<g id="b2-p2c">
<rect class="b2" x="2171" y="1971" width="287" height="49" rx="8"/>
<text class="x2" x="2178" y="1991.5"><tspan x="2178">3、围绕专题开展课例研讨、课题研讨，活动</tspan><tspan x="2178" dy="17.6">。</tspan></text>
</g>
<g id="b2-p3">
<rect class="b2" x="1958" y="2113" width="226" height="30" rx="8"/>
<text class="x2" x="1965" y="2133">(三)基地名师讲学团"送培送教"活动</text>
</g>
<g id="b2-p3t">
<rect class="b2" x="2211" y="2050" width="289" height="155" rx="8"/>
<text class="x2" x="2218" y="2070.5"><tspan x="2218">以送培送教活动为载体，组织基地名师讲学团</tspan><tspan x="2218" dy="17.6">把先进的教育思想、教育理念辐射到教育薄弱</tspan><tspan x="2218" dy="17.6">地区、农村小学，逐步形成优质培训资源，缩</tspan><tspan x="2218" dy="17.6">小城乡间办学水平的差异。活动的开展以"情</tspan><tspan x="2218" dy="17.6">景式"培训为主，开展集中答疑、示范教学、</tspan><tspan x="2218" dy="17.6">导师点评和交流研讨等活动，提高农村教师教</tspan><tspan x="2218" dy="17.6">育教学观念和课堂教学水平，全面提升农村中</tspan><tspan x="2218" dy="17.6">小学教师队伍的素质。</tspan></text>
</g>
<g id="b2-l4">
<rect class="b2" x="1837" y="2669" width="95" height="30" rx="8"/>
<text class="x2" x="1844" y="2689">四、培训专题</text>
</g>
<g id="b2-sA">
<rect class="b2" x="1958" y="2234" width="288" height="49" rx="8"/>
<text class="x2" x="1965" y="2254.5"><tspan x="1965">结合培训工作中的热点、难点问题，升入开展</tspan><tspan x="1965" dy="17.6">培训专题的研究。</tspan></text>
</g>
<g id="b2-sB">
<rect class="b2" x="1958" y="2314" width="288" height="155" rx="8"/>
<text class="x2" x="1965" y="2334.5"><tspan x="1965">《标准(xx年版)》明确提出"四基"是数学课程</tspan><tspan x="1965" dy="17.6">与教学的基本目标，即使学生"获得适应社会</tspan><tspan x="1965" dy="17.6">生活和进一步发展所必需的数学的基础知识、</tspan><tspan x="1965" dy="17.6">基本技能、基本思想、基本活动经验"。四基"</tspan><tspan x="1965" dy="17.6">可以看做是对学生进行良好数学教育的集中体</tspan><tspan x="1965" dy="17.6">现，关系到学生的当前学习和长远发展。在不</tspan><tspan x="1965" dy="17.6">同学段和不同领域的教学活动的总体设计和具</tspan><tspan x="1965" dy="17.6">体方式的呈现都应当考虑如何突出"四基"。</tspan></text>
</g>
<g id="b2-sC">
<rect class="b2" x="1958" y="2498" width="288" height="67" rx="8"/>
<text class="x2" x="1965" y="2518.5"><tspan x="1965">本次培训将站在关注学生持续发展的角度审视</tspan><tspan x="1965" dy="17.6">数学教育，围绕"学生四基能力培养的实践研</tspan><tspan x="1965" dy="17.6">究"专题进行有益的探讨。</tspan></text>
</g>
<g id="b2-sD">
<rect class="b2" x="1958" y="2594" width="288" height="67" rx="8"/>
<text class="x2" x="1965" y="2614.5"><tspan x="1965">在课程内容、时间、途径等方面提供个性化、</tspan><tspan x="1965" dy="17.6">多样化的选择机会,增强培训的实效性和吸引</tspan><tspan x="1965" dy="17.6">力。</tspan></text>
</g>
<g id="b2-sE">
<rect class="b2" x="1958" y="2691" width="288" height="120" rx="8"/>
<text class="x2" x="1965" y="2711.5"><tspan x="1965">1.课程内容：以《义务教育段学科课程标准(xx</tspan><tspan x="1965" dy="17.6">年版)》《小学教师专业标准(试行)》为依据，</tspan><tspan x="1965" dy="17.6">从专业理念与师德、专业知识和专业技能三个</tspan><tspan x="1965" dy="17.6">维度，坚持师德为先，能力为重，关注学生的</tspan><tspan x="1965" dy="17.6">学，以"学生四基的培养"为主线，以教学理念</tspan><tspan x="1965" dy="17.6">和教学实践的改进为抓手，设置培训内容。</tspan></text>
</g>
<g id="b2-sF">
<rect class="b2" x="1958" y="2840" width="288" height="172" rx="8"/>
<text class="x2" x="1965" y="2860.5"><tspan x="1965">2.培训方式：注重培训方式的开放性和多样性</tspan><tspan x="1965" dy="17.6">。坚持理论与实践相结合、导师引领与自我研</tspan><tspan x="1965" dy="17.6">修相结合、集中培训与网络研修相结合的原则</tspan><tspan x="1965" dy="17.6">，运用以"案例为支撑的情境学习"、"以问题</tspan><tspan x="1965" dy="17.6">为驱动的行动学习""以交流互动为基础的合作</tspan><tspan x="1965" dy="17.6">学习"、"以经验提升为基础的反思学习"、"以</tspan><tspan x="1965" dy="17.6">发现规律为追求的研究学习"五种培训模式，</tspan><tspan x="1965" dy="17.6">将学思和知行相结合，强化学员的互动参与，</tspan><tspan x="1965" dy="17.6">增强培训的针对性和时效性。</tspan></text>
</g>
<g id="b2-sG">
<rect class="b2" x="1958" y="3042" width="288" height="137" rx="8"/>
<text class="x2" x="1965" y="3062.5"><tspan x="1965">3.教学支撑环境方面：在教学支撑环境方面：</tspan><tspan x="1965" dy="17.6">在合肥学院远程教育平台设置"合肥市小学数</tspan><tspan x="1965" dy="17.6">学学科培训基地"研修主页，充分发挥网络研</tspan><tspan x="1965" dy="17.6">修的优势，为每个学员建立个人学习空间，实</tspan><tspan x="1965" dy="17.6">现交互式活动、参与式学习、资源共建共享，</tspan><tspan x="1965" dy="17.6">将学员的研修成果和体会即时转化开发成培训</tspan><tspan x="1965" dy="17.6">的动态生成资源。</tspan></text>
</g>

<g id="b4">
<rect x="1563" y="3696" width="282" height="43" rx="21.5" fill="#1b9bd3"/>
<text class="L1" x="1704" y="3723" fill="#ffffff">小学数学教师工作计划范文(四)</text>
</g>
<g id="b4-intro">
<rect class="b4" x="1867" y="3649" width="298" height="137" rx="8"/>
<text class="x4" x="1874" y="3669.5"><tspan x="1874">教师发展是教师个人生价值实现的过程，是教</tspan><tspan x="1874" dy="17.6">师在充分认识教育意义的基础上，不断提升自</tspan><tspan x="1874" dy="17.6">身精神追求，增强职业道德，掌握教育规律，</tspan><tspan x="1874" dy="17.6">拓展学科知识，强化专业技能和提高教育教学</tspan><tspan x="1874" dy="17.6">水平的过程。为了更好地提高自己，在认真学</tspan><tspan x="1874" dy="17.6">习了学校的工作计划后，针对自身的特点制定</tspan><tspan x="1874" dy="17.6">计划如下：</tspan></text>
</g>
<g id="b4-1">
<rect class="b4" x="2186" y="3210" width="287" height="190" rx="8"/>
<text class="x4" x="2193" y="3230.5"><tspan x="2193">1、读书学习——注重个人素质的培养，不贪</tspan><tspan x="2193" dy="17.6">名利，切实提高自身理论水平和业务水平，力</tspan><tspan x="2193" dy="17.6">求为学生创造最好的教育。用教育理论武装自</tspan><tspan x="2193" dy="17.6">己，为了自己的教育教学尽快的提高,读书是</tspan><tspan x="2193" dy="17.6">一种至关重要的途径,所以我在本学期要坚持</tspan><tspan x="2193" dy="17.6">读有关教育的书籍.，如：《师生沟通的艺术</tspan><tspan x="2193" dy="17.6">》，《教学策略》，《教育新理念》，《课堂</tspan><tspan x="2193" dy="17.6">管理的策略》。除了读有关教学的书籍外，我</tspan><tspan x="2193" dy="17.6">还要不断去读其它的书籍，来武装自己的思想</tspan><tspan x="2193" dy="17.6">。</tspan></text>
</g>
<g id="b4-2">
<rect class="b4" x="2186" y="3430" width="287" height="296" rx="8"/>
<text class="x4" x="2193" y="3450.5"><tspan x="2193">2、师德——教师职业作为一种以人育人的职</tspan><tspan x="2193" dy="17.6">业，对其劳动质量提出的要求是很高的、无止</tspan><tspan x="2193" dy="17.6">境的，所以，作为一名教师，我时刻告诫自己</tspan><tspan x="2193" dy="17.6">要追求卓越，崇尚一流，拒绝平庸，注重自身</tspan><tspan x="2193" dy="17.6">创新精神与实践能力、情感、态度与价值观的</tspan><tspan x="2193" dy="17.6">发展,使自己真正成长为不辱使命感、历史责</tspan><tspan x="2193" dy="17.6">任感的优秀教师，把自己的全部知识、才华和</tspan><tspan x="2193" dy="17.6">爱心奉献给学生、奉献给教育事业，我相信这</tspan><tspan x="2193" dy="17.6">也是每一个教师所追求的思想境界。我要使自</tspan><tspan x="2193" dy="17.6">己具备更强烈的事业心和责任心，当好人梯，</tspan><tspan x="2193" dy="17.6">对教育事业忠诚不二，矢志不渝，无怨无悔。</tspan><tspan x="2193" dy="17.6">要树立现代学生观，学会以发展的眼光看待每</tspan><tspan x="2193" dy="17.6">一个学生。相信学生的巨大潜能，并努力去探</tspan><tspan x="2193" dy="17.6">索发掘;在教育教学活动中发扬学生的主体精</tspan><tspan x="2193" dy="17.6">神，促进学生的主体发展，努力做到因材施教</tspan><tspan x="2193" dy="17.6">。</tspan></text>
</g>
<g id="b4-3">
<rect class="b4" x="2186" y="3755" width="287" height="296" rx="8"/>
<text class="x4" x="2193" y="3775.5"><tspan x="2193">3、教育教研——教育教学离不开教学研究，</tspan><tspan x="2193" dy="17.6">为了提高自己的教学,我要积极向同伴学习,多</tspan><tspan x="2193" dy="17.6">走进同组教师和优秀教师的课堂,并积极完成</tspan><tspan x="2193" dy="17.6">每周的教研,把握组内开展的各种学习机会,向</tspan><tspan x="2193" dy="17.6">同组教师学习.在同伴互助的基础上提高自己</tspan><tspan x="2193" dy="17.6">的教学质量.尝试课堂创新，改革传统的教学</tspan><tspan x="2193" dy="17.6">方式———教师教，学生学,学生的学习兴趣不</tspan><tspan x="2193" dy="17.6">高,而且不能充分培养学生的探究能力.在本学</tspan><tspan x="2193" dy="17.6">期中,我将运用多种灵活的教学方法,来激发学</tspan><tspan x="2193" dy="17.6">生的学习兴趣,在教学中对教材要认真分析,认</tspan><tspan x="2193" dy="17.6">真设计每一节课,并及时对每节课进行反思,认</tspan><tspan x="2193" dy="17.6">真分析课堂中出现的问题,并及时进行反思记</tspan><tspan x="2193" dy="17.6">录.充分发挥自己的特长来吸引学生，使学生</tspan><tspan x="2193" dy="17.6">喜欢自己的课，并能在自己的课堂上得到发展</tspan><tspan x="2193" dy="17.6">，能满足学生成长和走上社会的实际需要，有</tspan><tspan x="2193" dy="17.6">足够的实践性教学环节。</tspan></text>
</g>
<g id="b4-4">
<rect class="b4" x="2186" y="4083" width="287" height="102" rx="8"/>
<text class="x4" x="2193" y="4103.5"><tspan x="2193">4、自我管理——作为一名教师，我要时刻提</tspan><tspan x="2193" dy="17.6">醒自己，我服务的对象是很多的孩子，不能以</tspan><tspan x="2193" dy="17.6">自己的利益去牺牲孩子们的利益。本学期，我</tspan><tspan x="2193" dy="17.6">将严格遵守劳动纪律，不迟到，不早退，不随</tspan><tspan x="2193" dy="17.6">便串课要课。</tspan></text>
</g>

<g id="watermarks">
<text class="wm" transform="translate(358,724) rotate(-30)">树图 shutu.cn</text>
<text class="wm" transform="translate(1643,723) rotate(-30)">树图 shutu.cn</text>
<text class="wm" transform="translate(358,1724) rotate(-30)">树图 shutu.cn</text>
<text class="wm" transform="translate(1639,1721) rotate(-30)">树图 shutu.cn</text>
<text class="wm" transform="translate(358,2721) rotate(-30)">树图 shutu.cn</text>
<text class="wm" transform="translate(1633,2716) rotate(-30)">树图 shutu.cn</text>
<text class="wm" transform="translate(356,3712) rotate(-30)">树图 shutu.cn</text>
<text class="wm" transform="translate(1633,3715) rotate(-30)">树图 shutu.cn</text>
</g>
</g>
</svg>
